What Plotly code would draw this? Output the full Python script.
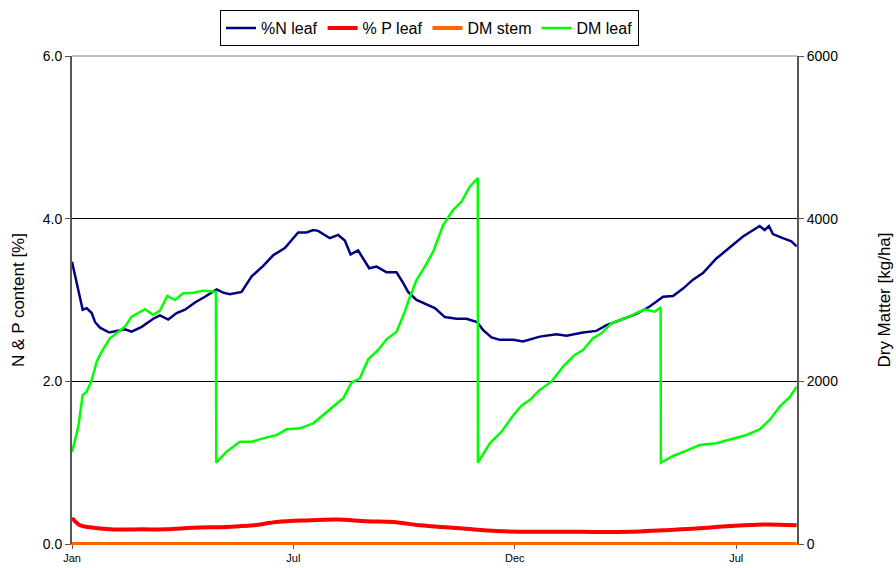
import plotly.graph_objects as go

# ---- data (x = days since 1 Jan of first year) ----
n_days = [0, 2.5, 5.2, 8.8, 12.1, 16.2, 18.9, 23.0, 30.6, 38.0, 43.5, 49.1, 57.3, 66.8, 72.3, 79.1,
          86.0, 92.9, 101.1, 109.3, 118.9, 124.3, 129.8, 139.4, 147.7, 157.2, 165.4, 175.0, 185.9,
          192.8, 198.3, 202.4, 212.0, 218.8, 224.3, 229.0, 235.2, 244.3, 250.4, 258.6, 266.8, 272.2,
          276.3, 283.2, 291.5, 298.3, 306.5, 316.1, 324.3, 333.0, 338.0, 344.9, 351.7, 362.6, 370.8,
          384.5, 398.3, 406.5, 420.1, 431.1, 439.4, 450.3, 464.0, 474.9, 485.9, 494.1, 502.3, 510.5,
          518.7, 529.7, 540.6, 551.6, 565.3, 569.4, 572.9, 576.2, 584.4, 591.4, 595.7]
n_leaf = [3.47, 3.29, 3.14, 2.88, 2.90, 2.84, 2.73, 2.66, 2.60, 2.62, 2.64, 2.61, 2.67, 2.77, 2.81, 2.76,
          2.84, 2.88, 2.97, 3.04, 3.13, 3.09, 3.07, 3.10, 3.29, 3.42, 3.55, 3.64, 3.83,
          3.83, 3.86, 3.85, 3.76, 3.80, 3.73, 3.56, 3.61, 3.39, 3.41, 3.34, 3.34, 3.21,
          3.10, 3.00, 2.94, 2.90, 2.79, 2.77, 2.77, 2.73, 2.63, 2.54, 2.51, 2.51, 2.49,
          2.55, 2.58, 2.56, 2.60, 2.62, 2.69, 2.75, 2.83, 2.92, 3.04, 3.05, 3.14, 3.25,
          3.33, 3.51, 3.64, 3.78, 3.91, 3.86, 3.91, 3.81, 3.76, 3.72, 3.66]

p_days = [0, 6.6, 14.8, 31.2, 58.6, 77.8, 99.7, 127.1, 149.0, 168.2, 192.8, 217.5, 242.1, 264.0,
          285.9, 302.4, 321.5, 349.0, 376.3, 417.4, 458.5, 485.9, 513.3, 540.6, 568.0, 595.7]
p_leaf = [0.32, 0.23, 0.205, 0.18, 0.18, 0.18, 0.20, 0.21, 0.23, 0.27, 0.29, 0.30, 0.28, 0.27,
          0.23, 0.21, 0.19, 0.16, 0.15, 0.15, 0.15, 0.17, 0.19, 0.22, 0.24, 0.23]

stem_days = [0, 595.7]
dm_stem = [0, 0]

dm_days = [0, 5.2, 8.8, 12.1, 16.2, 20.3, 24.4, 31.2, 38.0, 43.5, 49.1, 54.5, 60.0, 66.8, 72.3,
           78.3, 84.6, 91.5, 99.7, 107.9, 118.3, 118.6,
           127.1, 138.0, 147.7, 157.2, 168.2, 176.4, 187.3, 198.3, 206.5, 214.7, 222.9, 229.8,
           236.6, 243.5, 251.7, 258.6, 266.8, 273.6, 276.3, 283.2, 290.1, 296.9, 305.1, 313.3,
           320.2, 327.0, 332.5, 333.6, 333.7,
           343.5, 353.1, 362.6, 369.5, 376.3, 384.5, 394.1, 403.7, 413.2, 420.1, 428.3, 435.2,
           443.4, 454.3, 462.6, 470.8, 479.0, 483.9, 484.1,
           494.1, 505.1, 516.0, 529.7, 543.4, 554.4, 565.3, 573.5, 581.8, 590.0, 595.7]
dm_leaf = [1130, 1443, 1832, 1873, 2016, 2242, 2365, 2529, 2611, 2672, 2795, 2844, 2886, 2816, 2869,
           3049, 3000, 3082, 3090, 3115, 3100, 1000,
           1135, 1258, 1258, 1299, 1340, 1410, 1422, 1484, 1586, 1688, 1791, 1983,
           2037, 2271, 2385, 2517, 2611, 2856, 2979, 3246, 3410, 3594, 3922, 4107,
           4209, 4393, 4484, 4500, 1000,
           1238, 1380, 1580, 1700, 1770, 1894, 1996, 2180, 2324, 2385, 2529, 2591,
           2713, 2775, 2836, 2886, 2856, 2910, 1000,
           1082, 1147, 1217, 1238, 1299, 1340, 1410, 1525, 1688, 1804, 1934]

tick_days = [0, 182, 364, 546]
tick_labels = ["Jan", "Jul", "Dec", "Jul"]

FONT = "Liberation Sans, Arial, sans-serif"
AX = "#555555"

fig = go.Figure()
fig.add_trace(go.Scatter(x=n_days, y=n_leaf, name="%N leaf", mode="lines",
                         line=dict(color="#000080", width=2.5)))
fig.add_trace(go.Scatter(x=p_days, y=p_leaf, name="% P leaf", mode="lines",
                         line=dict(color="#FF0000", width=4, shape="spline")))
fig.add_trace(go.Scatter(x=stem_days, y=dm_stem, name="DM stem", mode="lines", yaxis="y2",
                         line=dict(color="#FF6600", width=4)))
fig.add_trace(go.Scatter(x=dm_days, y=dm_leaf, name="DM leaf", mode="lines", yaxis="y2",
                         line=dict(color="#00FF00", width=2.5)))

fig.update_layout(
    width=896, height=568,
    margin=dict(l=72, r=99, t=56, b=24, autoexpand=False),
    paper_bgcolor="white", plot_bgcolor="white",
    font=dict(family=FONT, color="black"),
    showlegend=True,
    legend=dict(orientation="h", xref="container", yref="container",
                x=0.4794, xanchor="center", y=0.982, yanchor="top",
                bordercolor="black", borderwidth=1, font=dict(size=16),
                itemwidth=30, tracegroupgap=0),
    xaxis=dict(range=[0, 596], tickvals=tick_days, ticktext=tick_labels, automargin=False,
               showgrid=False, zeroline=False, showline=True, linecolor="#FF6600", linewidth=1,
               ticks="outside", ticklen=4, tickcolor=AX, tickfont=dict(size=11)),
    yaxis=dict(range=[0, 6], dtick=2, tickformat=".1f", automargin=False,
               showgrid=True, gridcolor="black", gridwidth=1, zeroline=False,
               showline=True, linecolor=AX, linewidth=2, ticks="outside", ticklen=5,
               tickcolor=AX, tickfont=dict(size=14),
               title=dict(text="N & P content [%]", font=dict(size=17), standoff=14)),
    yaxis2=dict(range=[0, 6000], dtick=2000, overlaying="y", side="right", automargin=False,
                showgrid=False, zeroline=False, showline=True, linecolor=AX, linewidth=2,
                ticks="outside", ticklen=5, tickcolor=AX, tickfont=dict(size=14),
                title=dict(text="Dry Matter [kg/ha]", font=dict(size=17), standoff=41)),
    shapes=[dict(type="line", xref="paper", yref="paper", x0=0, x1=1, y0=1, y1=1,
                 line=dict(color="#808080", width=1), layer="below")],
)

fig.write_html("out.html", config={"displayModeBar": False},
               post_script="document.body.style.margin='0px';")
